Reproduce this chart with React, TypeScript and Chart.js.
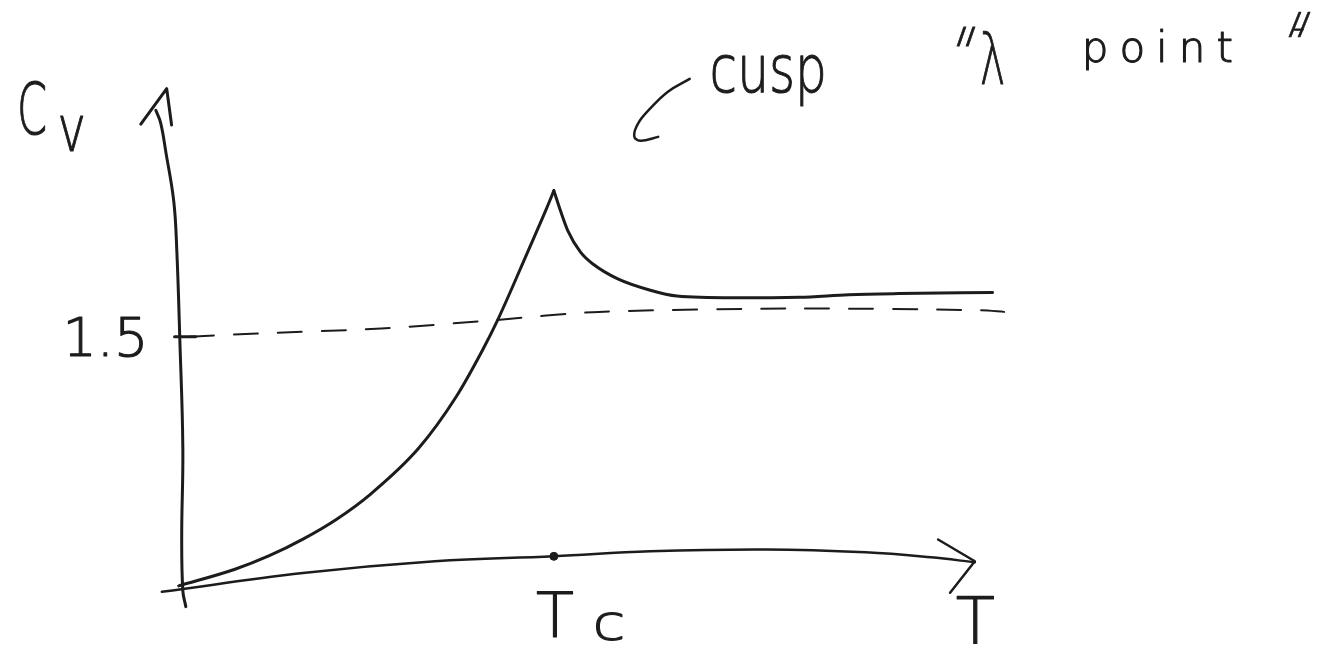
import React, { useEffect, useRef } from "react";
import { Chart, registerables } from "chart.js";

Chart.register(...registerables);

// Heat capacity Cv against temperature T (T in units of Tc), sketched by hand.
// Branch below the transition, rising to the cusp at Tc.
const belowT = [0, 0.15, 0.24, 0.33, 0.42, 0.51, 0.64, 0.74, 0.81, 0.85, 0.93, 0.98, 1.0];
const belowCv = [0, 0.1, 0.18, 0.28, 0.4, 0.55, 0.83, 1.14, 1.42, 1.6, 2.01, 2.27, 2.38];

// Branch above the transition, relaxing toward a plateau.
const aboveT = [1.0, 1.019, 1.037, 1.071, 1.106, 1.169, 1.257, 1.328, 1.476, 1.653, 1.786, 1.918, 2.169];
const aboveCv = [2.38, 2.25, 2.14, 2.01, 1.935, 1.85, 1.78, 1.745, 1.735, 1.738, 1.753, 1.76, 1.767];

// Classical value 3/2, drawn dashed freehand.
const classicalT = [0.03, 0.21, 0.54, 0.84, 1.12, 1.65, 2.14, 2.2];
const classicalCv = [1.5, 1.52, 1.55, 1.6, 1.65, 1.67, 1.66, 1.65];

// Freehand axes.
const yAxisT = [-0.061, -0.048, -0.034, -0.013, -0.005, 0.003, 0.011, 0.008, 0.011, 0.019];
const yAxisCv = [2.864, 2.787, 2.609, 2.312, 2.016, 1.482, 0.83, 0.296, -0.03, -0.125];
const yArrowT = [-0.101, -0.032, -0.019];
const yArrowCv = [2.781, 2.994, 2.775];
const xAxisT = [-0.045, 0.331, 0.683, 1.0, 1.257, 1.566, 1.831, 2.005, 2.122];
const xAxisCv = [-0.036, 0.077, 0.148, 0.178, 0.208, 0.219, 0.202, 0.172, 0.142];
const xArrowT = [2.024, 2.122, 2.056];
const xArrowCv = [0.279, 0.148, -0.041];

// Tick marks: 1.5 on the Cv axis, Tc on the T axis.
const cvTickValue = 1.5;
const cvTickT = [-0.011, 0.045];
const tcT = [1.0];
const tcCv = [0.178];

// Pointer from the "cusp" note down toward the peak.
const pointerT = [1.362, 1.304, 1.257, 1.225, 1.214, 1.23, 1.278];
const pointerCv = [3.053, 2.976, 2.875, 2.787, 2.709, 2.68, 2.704];

const pts = (xs: number[], ys: number[]) => xs.map((x, i) => ({ x, y: ys[i] }));

const INK = "#1c1c1c";
const FONT = '"DejaVu Sans"';

type Note = { text: string; t: number; cv: number; size: number; sx?: number; spacing?: number; skew?: number };

// Handwritten notes, anchored at (left, baseline) in data coordinates.
const notes: Note[] = [
  { text: "C", t: -0.431, cv: 2.721, size: 72, sx: 0.6 },
  { text: "v", t: -0.323, cv: 2.621, size: 64, sx: 0.75 },
  { text: String(cvTickValue), t: -0.31, cv: 1.387, size: 54 },
  { text: "cusp", t: 1.415, cv: 2.976, size: 66, sx: 0.76 },
  { text: "\"", t: 2.03, cv: 3.06, size: 70, sx: 0.7, skew: 0.35 },
  { text: "λ", t: 2.135, cv: 3.024, size: 72, sx: 0.6 },
  { text: "point", t: 2.407, cv: 3.154, size: 42, spacing: 11 },
  { text: "\"", t: 2.9, cv: 3.06, size: 90, sx: 0.55, skew: 0.4 },
  { text: "-", t: 2.97, cv: 3.3, size: 32 },
  { text: "T", t: 0.952, cv: -0.308, size: 62 },
  { text: "c", t: 1.103, cv: -0.326, size: 50, sx: 1.2 },
  { text: "T", t: 2.071, cv: -0.344, size: 64 },
];

const notesPlugin = {
  id: "handNotes",
  afterDatasetsDraw(chart: any) {
    const { ctx, scales } = chart;
    ctx.save();
    ctx.fillStyle = INK;
    ctx.strokeStyle = INK;
    ctx.lineWidth = 1.1;
    ctx.lineJoin = "round";
    ctx.textBaseline = "alphabetic";
    ctx.textAlign = "left";
    for (const n of notes) {
      const px = scales.x.getPixelForValue(n.t);
      const py = scales.y.getPixelForValue(n.cv);
      ctx.save();
      ctx.font = `200 ${n.size}px ${FONT}`;
      (ctx as any).letterSpacing = `${n.spacing ?? 0}px`;
      ctx.translate(px, py);
      ctx.transform(n.sx ?? 1, 0, -(n.skew ?? 0), 1, 0, 0);
      ctx.fillText(n.text, 0, 0);
      ctx.strokeText(n.text, 0, 0);
      ctx.restore();
    }
    ctx.restore();
  },
};

const stroke = (data: { x: number; y: number }[], width: number, extra: any = {}) => ({
  data,
  showLine: true,
  borderColor: INK,
  backgroundColor: INK,
  borderWidth: width,
  pointRadius: 0,
  borderCapStyle: "round",
  borderJoinStyle: "round",
  fill: false,
  ...extra,
});

export default function App() {
  const canvasRef = useRef<HTMLCanvasElement | null>(null);

  useEffect(() => {
    const canvas = canvasRef.current;
    if (!canvas) return;
    const chart = new Chart(canvas, {
      type: "scatter",
      data: {
        datasets: [
          stroke(pts(yAxisT, yAxisCv), 3, { tension: 0.4 }),
          stroke(pts(yArrowT, yArrowCv), 3),
          stroke(pts(xAxisT, xAxisCv), 2.5, { tension: 0.4 }),
          stroke(pts(xArrowT, xArrowCv), 2.5),
          stroke(pts(cvTickT, [cvTickValue, cvTickValue]), 3),
          stroke(pts(classicalT, classicalCv), 2, { tension: 0.3, borderDash: [24, 20] }),
          stroke(pts(belowT, belowCv), 3, { cubicInterpolationMode: "monotone" }),
          stroke(pts(aboveT, aboveCv), 3, { cubicInterpolationMode: "monotone" }),
          stroke(pts(pointerT, pointerCv), 2.5, { tension: 0.4 }),
          {
            data: pts(tcT, tcCv),
            showLine: false,
            pointRadius: 4,
            pointBackgroundColor: INK,
            pointBorderColor: INK,
          },
        ],
      },
      options: {
        animation: false,
        responsive: false,
        maintainAspectRatio: false,
        devicePixelRatio: 1,
        layout: { padding: 0 },
        events: [],
        scales: {
          x: { type: "linear", min: -0.463, max: 3.042, display: false },
          y: { type: "linear", min: -0.344, max: 3.498, display: false },
        },
        plugins: {
          legend: { display: false },
          tooltip: { enabled: false },
        },
      },
      plugins: [notesPlugin],
    });
    return () => chart.destroy();
  }, []);

  return (
    <div style={{ position: "fixed", left: 0, top: 0, width: 1325, height: 648, background: "#fff" }}>
      <canvas ref={canvasRef} width={1325} height={648} style={{ display: "block" }} />
    </div>
  );
}
